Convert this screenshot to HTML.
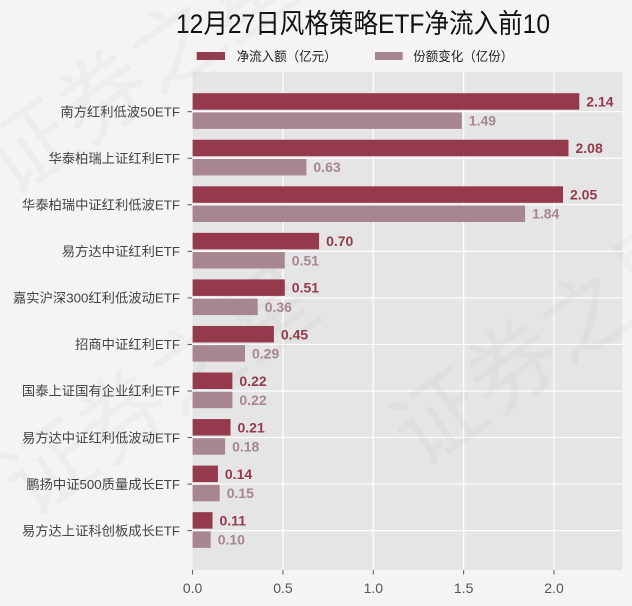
<!DOCTYPE html>
<html><head><meta charset="utf-8">
<style>
html,body{margin:0;padding:0;background:#f4f4f4;}
svg{display:block;}
text{font-family:"Liberation Sans","Noto Sans CJK SC",sans-serif;}
</style></head>
<body>
<svg width="632" height="606" viewBox="0 0 632 606" xmlns="http://www.w3.org/2000/svg">
<rect x="0" y="0" width="632" height="606" fill="#f4f4f4"/>
<!-- title -->
<text x="176" y="33" font-size="27" fill="#111" textLength="374" lengthAdjust="spacingAndGlyphs">12月27日风格策略ETF净流入前10</text>
<!-- legend -->
<rect x="196.7" y="52" width="28.3" height="8" fill="#953a4c"/>
<text x="236.7" y="61" font-size="13" fill="#222" textLength="100" lengthAdjust="spacingAndGlyphs">净流入额（亿元）</text>
<rect x="375" y="52" width="27.7" height="8" fill="#a8868f"/>
<text x="413.3" y="61" font-size="13" fill="#222" textLength="100" lengthAdjust="spacingAndGlyphs">份额变化（亿份）</text>
<!-- plot panel -->
<rect x="192.6" y="71.7" width="429.7" height="498.3" fill="#e5e5e5"/>
<g stroke="#ffffff" stroke-width="1.2">
<line x1="282.95" y1="71.7" x2="282.95" y2="570"/>
<line x1="373.3" y1="71.7" x2="373.3" y2="570"/>
<line x1="463.65" y1="71.7" x2="463.65" y2="570"/>
<line x1="554.0" y1="71.7" x2="554.0" y2="570"/>
<line x1="192.6" y1="111.7" x2="622.3" y2="111.7"/>
<line x1="192.6" y1="158.25" x2="622.3" y2="158.25"/>
<line x1="192.6" y1="204.8" x2="622.3" y2="204.8"/>
<line x1="192.6" y1="251.35" x2="622.3" y2="251.35"/>
<line x1="192.6" y1="297.9" x2="622.3" y2="297.9"/>
<line x1="192.6" y1="344.45" x2="622.3" y2="344.45"/>
<line x1="192.6" y1="391.0" x2="622.3" y2="391.0"/>
<line x1="192.6" y1="437.55" x2="622.3" y2="437.55"/>
<line x1="192.6" y1="484.1" x2="622.3" y2="484.1"/>
<line x1="192.6" y1="530.65" x2="622.3" y2="530.65"/>
</g>
<!-- watermark -->
<g fill="#9a9a9a" fill-opacity="0.07" font-size="90">
<text transform="translate(10,200) rotate(-35)">证券之星</text>
<text transform="translate(30,520) rotate(-35)">证券之星</text>
<text transform="translate(420,470) rotate(-35)">证券之星</text>
</g>
<!-- dark bars -->
<g fill="#953a4c">
<rect x="192.6" y="93.2" width="386.7" height="16.5"/>
<rect x="192.6" y="139.75" width="375.9" height="16.5"/>
<rect x="192.6" y="186.3" width="370.4" height="16.5"/>
<rect x="192.6" y="232.85" width="126.5" height="16.5"/>
<rect x="192.6" y="279.4" width="92.2" height="16.5"/>
<rect x="192.6" y="325.95" width="81.3" height="16.5"/>
<rect x="192.6" y="372.5" width="39.8" height="16.5"/>
<rect x="192.6" y="419.05" width="37.9" height="16.5"/>
<rect x="192.6" y="465.6" width="25.3" height="16.5"/>
<rect x="192.6" y="512.15" width="19.9" height="16.5"/>
</g>
<!-- light bars -->
<g fill="#a8868f">
<rect x="192.6" y="112.4" width="269.2" height="16.5"/>
<rect x="192.6" y="158.95" width="113.8" height="16.5"/>
<rect x="192.6" y="205.5" width="332.5" height="16.5"/>
<rect x="192.6" y="252.05" width="92.2" height="16.5"/>
<rect x="192.6" y="298.6" width="65.1" height="16.5"/>
<rect x="192.6" y="345.15" width="52.4" height="16.5"/>
<rect x="192.6" y="391.7" width="39.8" height="16.5"/>
<rect x="192.6" y="438.25" width="32.5" height="16.5"/>
<rect x="192.6" y="484.8" width="27.1" height="16.5"/>
<rect x="192.6" y="531.35" width="18.1" height="16.5"/>
</g>
<!-- dark labels -->
<g fill="#943a4c" font-size="14" font-weight="bold">
<text x="586.3" y="106.5">2.14</text>
<text x="575.5" y="153.05">2.08</text>
<text x="570.0" y="199.6">2.05</text>
<text x="326.1" y="246.15">0.70</text>
<text x="291.8" y="292.7">0.51</text>
<text x="280.9" y="339.25">0.45</text>
<text x="239.4" y="385.8">0.22</text>
<text x="237.5" y="432.35">0.21</text>
<text x="224.9" y="478.9">0.14</text>
<text x="219.5" y="525.45">0.11</text>
</g>
<!-- light labels -->
<g fill="#a8868f" font-size="14" font-weight="bold">
<text x="468.8" y="125.6">1.49</text>
<text x="313.4" y="172.15">0.63</text>
<text x="532.1" y="218.7">1.84</text>
<text x="291.8" y="265.25">0.51</text>
<text x="264.7" y="311.8">0.36</text>
<text x="252.0" y="358.35">0.29</text>
<text x="239.4" y="404.9">0.22</text>
<text x="232.1" y="451.45">0.18</text>
<text x="226.7" y="498.0">0.15</text>
<text x="217.7" y="544.55">0.10</text>
</g>
<!-- ticks -->
<g stroke="#555" stroke-width="1">
<line x1="187.5" y1="111.7" x2="192" y2="111.7"/>
<line x1="187.5" y1="158.25" x2="192" y2="158.25"/>
<line x1="187.5" y1="204.8" x2="192" y2="204.8"/>
<line x1="187.5" y1="251.35" x2="192" y2="251.35"/>
<line x1="187.5" y1="297.9" x2="192" y2="297.9"/>
<line x1="187.5" y1="344.45" x2="192" y2="344.45"/>
<line x1="187.5" y1="391.0" x2="192" y2="391.0"/>
<line x1="187.5" y1="437.55" x2="192" y2="437.55"/>
<line x1="187.5" y1="484.1" x2="192" y2="484.1"/>
<line x1="187.5" y1="530.65" x2="192" y2="530.65"/>
<line x1="192.6" y1="570" x2="192.6" y2="574.5"/>
<line x1="282.95" y1="570" x2="282.95" y2="574.5"/>
<line x1="373.3" y1="570" x2="373.3" y2="574.5"/>
<line x1="463.65" y1="570" x2="463.65" y2="574.5"/>
<line x1="554.0" y1="570" x2="554.0" y2="574.5"/>
</g>
<!-- y labels -->
<g fill="#444" font-size="13.3" text-anchor="end">
<text x="180" y="116.4">南方红利低波50ETF</text>
<text x="180" y="162.95">华泰柏瑞上证红利ETF</text>
<text x="180" y="209.5">华泰柏瑞中证红利低波ETF</text>
<text x="180" y="256.05">易方达中证红利ETF</text>
<text x="180" y="302.6">嘉实沪深300红利低波动ETF</text>
<text x="180" y="349.15">招商中证红利ETF</text>
<text x="180" y="395.7">国泰上证国有企业红利ETF</text>
<text x="180" y="442.25">易方达中证红利低波动ETF</text>
<text x="180" y="488.8">鹏扬中证500质量成长ETF</text>
<text x="180" y="535.35">易方达上证科创板成长ETF</text>
</g>
<!-- x labels -->
<g fill="#555" font-size="14" text-anchor="middle">
<text x="192.6" y="593">0.0</text>
<text x="282.95" y="593">0.5</text>
<text x="373.3" y="593">1.0</text>
<text x="463.65" y="593">1.5</text>
<text x="554.0" y="593">2.0</text>
</g>
</svg>
</body></html>
